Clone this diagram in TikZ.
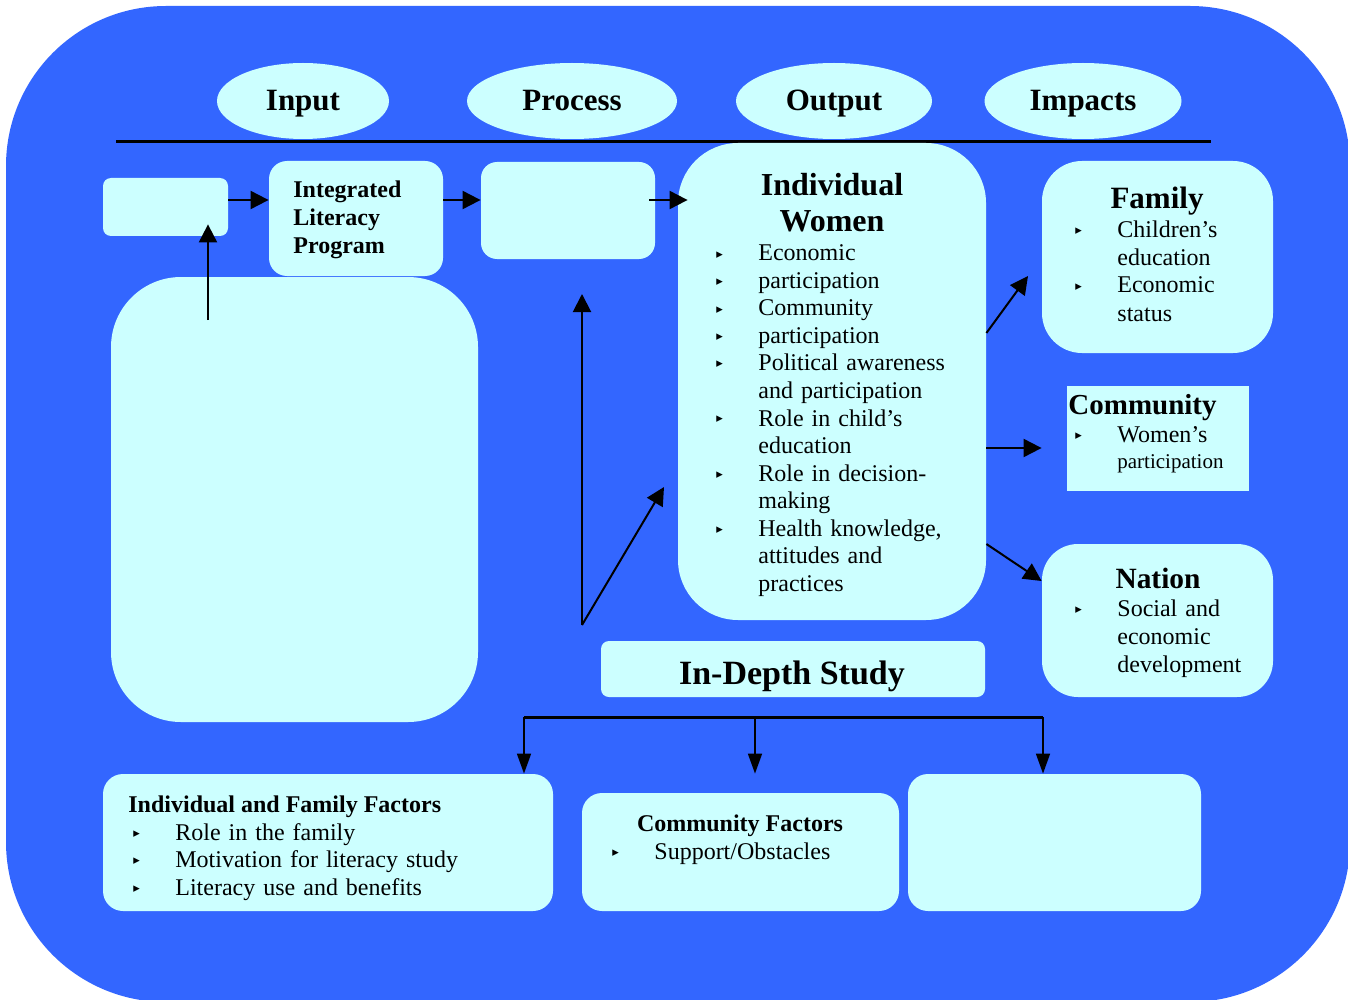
\documentclass[tikz,border=0pt]{standalone}
\usepackage{fontspec}
\setmainfont{Liberation Serif}
\newfontfamily\symfont{DejaVu Sans}
\usetikzlibrary{arrows.meta,fit,shapes.geometric}
\definecolor{bgblue}{RGB}{51,102,255}
\definecolor{paleblue}{RGB}{204,255,255}
% bullet and empty bullet slot
\newcommand{\blt}{\makebox[21pt][l]{\raisebox{1.5pt}{\symfont\fontsize{6.5}{7}\selectfont ▸}}}
\newcommand{\nob}{\hspace*{21pt}}
\tikzset{
 panel/.style={fill=paleblue, draw=none, inner sep=0pt},
 head/.style={ellipse, fill=paleblue, inner sep=0pt, minimum height=38pt,
   text height=12pt, text depth=2pt,
   font=\bfseries\fontsize{15.5}{18}\selectfont},
 body/.style={inner sep=0pt, align=left, anchor=base west, text width=#1,
   font=\fontsize{12}{13.75}\selectfont},
 ttl/.style={inner sep=0pt, anchor=base, font=\bfseries\fontsize{#1}{#1}\selectfont},
 arr/.style={line width=1pt, -{Triangle[length=9pt,width=9pt]}},
 tarr/.style={line width=0.8pt, -{Triangle[length=10pt,width=7pt]}},
}
\begin{document}
\begin{tikzpicture}[x=0.5pt,y=-0.5pt]
 \useasboundingbox (0,0) rectangle (1348,1000);
 \fill[bgblue, rounded corners=80pt] (6,6) rectangle (1350,1002);

 % headings
 \node[head, minimum width=86pt] (input) at (303,101) {Input};
 \node[head, minimum width=105pt] (process) at (572,101) {Process};
 \node[head, minimum width=98pt] (output) at (834,101) {Output};
 \node[head, minimum width=98.5pt] (impacts) at (1083,101) {Impacts};
 \draw[line width=1.5pt] (116,142) -- (1211,142);

 % boxes
 \node[panel, rounded corners=4pt, fit={(103,178) (228,236)}] (inbox) {};
 \node[panel, rounded corners=35pt, fit={(111,277) (478,722)}] (bigleft) {};
 \node[panel, rounded corners=9pt, fit={(269,161) (443,276)}] (ilp) {};
 \node[panel, rounded corners=8pt, fit={(481,162) (655,259)}] (procbox) {};
 \node[panel, rounded corners=30pt, fit={(678,143) (986,620)}] (iw) {};
 \node[panel, rounded corners=20pt, fit={(1042,161) (1273,353)}] (family) {};
 \node[panel, fit={(1067,386) (1249,491)}] (commbox) {};
 \node[panel, rounded corners=18pt, fit={(1042,544) (1273,697)}] (nation) {};
 \node[panel, rounded corners=4pt, fit={(601,641) (985,697)}] (depth) {};
 \node[panel, rounded corners=10pt, fit={(103,774) (553,911)}] (iff) {};
 \node[panel, rounded corners=10pt, fit={(582,793) (899,911)}] (cf) {};
 \node[panel, rounded corners=10pt, fit={(908,774) (1201,911)}] (other) {};

 % texts
 \node[body=85pt, font=\bfseries\fontsize{12}{14}\selectfont] (ilptxt) at (293,198)
   {Integrated\\Literacy\\Program};
 \node[ttl=16, align=center, text width=150pt, font=\bfseries\fontsize{16}{18}\selectfont]
   (iwtitle) at (832,196) {Individual\\Women};
 \node[body=125pt] (iwlist) at (716,261)
   {\blt Economic\\ \blt participation\\ \blt Community\\ \blt participation\\
    \blt Political awareness\\ \nob and participation\\ \blt Role in child’s\\
    \nob education\\ \blt Role in decision-\\ \nob making\\ \blt Health knowledge,\\
    \nob attitudes and\\ \nob practices};
 \node[ttl=15.5] (famtitle) at (1157,209) {Family};
 \node[body=95pt, font=\fontsize{12}{14}\selectfont] (famlist) at (1075,237)
   {\blt Children’s\\ \nob education\\ \blt Economic\\ \nob status};
 \node[ttl=14.5, anchor=base west] (comtitle) at (1068,414) {Community};
 \node[body=90pt, font=\fontsize{12}{13}\selectfont] (comlist) at (1075,442)
   {\blt Women’s\\ \nob{\fontsize{10.5}{13}\selectfont participation}};
 \node[ttl=14.7] (nattitle) at (1158,588) {Nation};
 \node[body=95pt, font=\fontsize{12}{14}\selectfont] (natlist) at (1075,616)
   {\blt Social and\\ \nob economic\\ \nob development};
 \node[ttl=17] (depthtxt) at (792,684) {In-Depth Study};
 \node[ttl=12, anchor=base west] (ifftitle) at (128,812) {Individual and Family Factors};
 \node[body=200pt] (ifflist) at (133,840)
   {\blt Role in the family\\ \blt Motivation for literacy study\\ \blt Literacy use and benefits};
 \node[ttl=12] (cftitle) at (740,831) {Community Factors};
 \node[body=120pt] (cflist) at (612,859) {\blt Support/Obstacles};

 % arrows
 \draw[arr] (inbox.east |- 0,200) -- (ilp.west |- 0,200);
 \draw[arr] (ilp.east |- 0,200) -- (procbox.west |- 0,200);
 \draw[arr] ([xshift=-3pt]procbox.east |- 0,200) -- ([xshift=5pt]iw.west |- 0,200);
 \coordinate (leftup) at (208,320);
 \draw[arr] (leftup) -- ([yshift=6pt]leftup |- inbox.south);
 \coordinate (mid) at (582,625);
 \coordinate (procin) at (582,294);
 \coordinate (iwin) at (664,487);
 \draw[arr] (mid) -- (procin);
 \draw[arr] (mid) -- (iwin);
 \coordinate (famin) at (1028,276);
 \draw[arr] (iw.east |- 0,333) -- (famin);
 \draw[arr] (iw.east |- 0,448) -- (family.west |- 0,448);
 \draw[arr] (iw.east |- 0,544) -- (nation.west |- 0,581);

 % study tree
 \coordinate (tl) at (524,717);
 \coordinate (tm) at (755,717);
 \coordinate (tr) at (1043,717);
 \draw[line width=1.5pt] (tl) -- (tr);
 \draw[tarr] (tl) -- (tl |- iff.north);
 \draw[tarr] (tm) -- (tm |- iff.north);
 \draw[tarr] (tr) -- (tr |- other.north);
\end{tikzpicture}
\end{document}
